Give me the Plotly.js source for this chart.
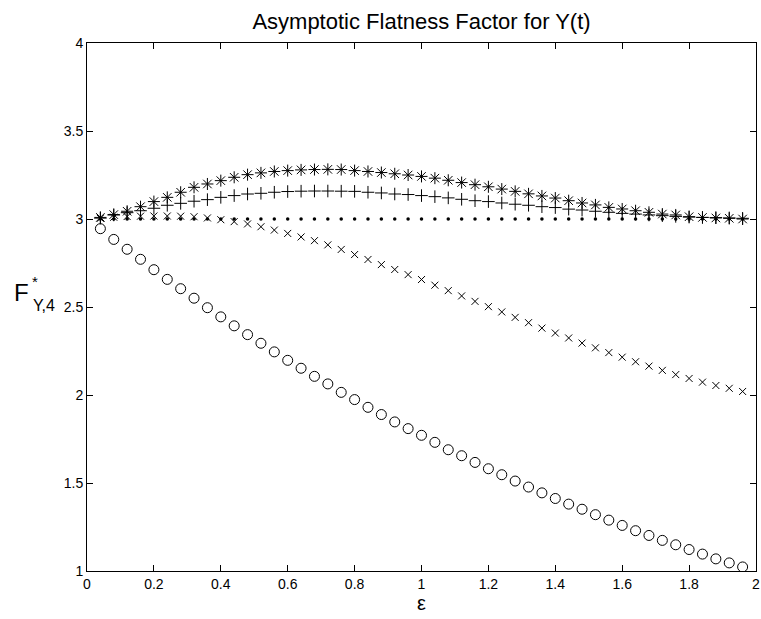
<!DOCTYPE html>
<html>
<head>
<meta charset="utf-8">
<script src="https://cdn.plot.ly/plotly-3.0.1.min.js"></script>
<style>html,body{margin:0;padding:0;background:#fff;}#chart{width:761px;height:619px;}</style>
</head>
<body>
<div id="chart"></div>
<script>
// epsilon values
const eps = [0.04,0.08,0.12,0.16,0.20,0.24,0.28,0.32,0.36,0.40,
  0.44,0.48,0.52,0.56,0.60,0.64,0.68,0.72,0.76,0.80,
  0.84,0.88,0.92,0.96,1.00,1.04,1.08,1.12,1.16,1.20,
  1.24,1.28,1.32,1.36,1.40,1.44,1.48,1.52,1.56,1.60,
  1.64,1.68,1.72,1.76,1.80,1.84,1.88,1.92,1.96];

// series
const circles = [2.945,2.884,2.828,2.771,2.712,2.657,2.604,2.550,2.496,2.444,
  2.393,2.343,2.294,2.245,2.197,2.152,2.106,2.063,2.015,1.974,
  1.930,1.889,1.847,1.809,1.771,1.731,1.689,1.655,1.617,1.581,
  1.547,1.511,1.477,1.444,1.412,1.380,1.351,1.320,1.289,1.259,
  1.229,1.202,1.174,1.149,1.122,1.096,1.069,1.046,1.023];

const crosses = [3.004,3.010,3.014,3.016,3.017,3.017,3.016,3.013,3.006,2.996,
  2.985,2.972,2.956,2.937,2.918,2.898,2.877,2.853,2.827,2.798,
  2.770,2.741,2.713,2.684,2.656,2.624,2.593,2.563,2.532,2.502,
  2.472,2.441,2.411,2.380,2.352,2.324,2.295,2.268,2.241,2.215,
  2.189,2.164,2.140,2.116,2.094,2.073,2.054,2.038,2.020];

const pluses = [3.005,3.023,3.036,3.047,3.061,3.078,3.089,3.101,3.110,3.123,
  3.133,3.142,3.146,3.152,3.156,3.158,3.159,3.159,3.158,3.157,
  3.152,3.148,3.142,3.139,3.133,3.127,3.120,3.112,3.104,3.099,
  3.091,3.084,3.078,3.070,3.065,3.056,3.051,3.044,3.038,3.032,
  3.028,3.023,3.019,3.015,3.011,3.009,3.008,3.006,3.004];

const stars = [3.009,3.025,3.044,3.070,3.099,3.123,3.152,3.180,3.199,3.218,
  3.237,3.252,3.262,3.270,3.275,3.279,3.281,3.282,3.281,3.275,
  3.270,3.264,3.257,3.250,3.242,3.232,3.220,3.207,3.195,3.183,
  3.170,3.157,3.143,3.131,3.119,3.104,3.091,3.080,3.066,3.057,
  3.047,3.038,3.028,3.023,3.013,3.009,3.006,3.004,3.000];

const dots = [3,3,3,3,3,3,3,3,3,3,
  3,3,3,3,3,3,3,3,3,3,
  3,3,3,3,3,3,3,3,3,3,
  3,3,3,3,3,3,3,3,3,3,
  3,3,3,3,3,3,3,3,3];

const xTicks = [0,0.2,0.4,0.6,0.8,1,1.2,1.4,1.6,1.8,2];
const xTickText = ['0','0.2','0.4','0.6','0.8','1','1.2','1.4','1.6','1.8','2'];
const yTicks = [1,1.5,2,2.5,3,3.5,4];
const yTickText = ['1','1.5','2','2.5','3','3.5','4'];

const FONT = 'Liberation Sans, Arial, Helvetica, sans-serif';
const mk = (sym, size, extra) => Object.assign({symbol: sym, size: size, color: '#000', line: {color: '#000', width: 1}}, extra || {});

const traces = [
  {x: eps, y: dots, mode: 'markers', type: 'scatter', marker: mk('circle', 3.5, {line:{width:0}})},
  {x: eps, y: circles, mode: 'markers', type: 'scatter', marker: mk('circle-open', 10)},
  {x: eps, y: crosses, mode: 'markers', type: 'scatter', marker: mk('x-thin-open', 7)},
  {x: eps, y: pluses, mode: 'markers', type: 'scatter', marker: mk('cross-thin-open', 9)},
  {x: eps, y: stars, mode: 'markers', type: 'scatter', marker: mk('asterisk-open', 10)}
];

const L = 87, R = 5, T = 43, B = 48, W = 761, H = 619;
const pw = W - L - R, ph = H - T - B;
const px = v => (v - L) / pw;
const py = v => (H - B - v) / ph;

const layout = {
  width: W, height: H,
  margin: {l: L, r: R, t: T, b: B, pad: 0},
  paper_bgcolor: '#fff', plot_bgcolor: '#fff',
  showlegend: false,
  font: {family: FONT, color: '#000', size: 14},
  title: {text: 'Asymptotic Flatness Factor for Y(t)', font: {family: FONT, size: 22, color: '#000'},
    x: (L + pw/2) / W, xanchor: 'center', y: 1 - 21/H, yanchor: 'middle', xref: 'container', yref: 'container'},
  xaxis: {
    range: [0, 2], tickmode: 'array', tickvals: xTicks, ticktext: xTickText,
    ticks: 'inside', ticklen: 6, tickcolor: '#000', tickwidth: 1,
    showline: true, linecolor: '#000', linewidth: 1, mirror: 'ticks',
    showgrid: false, zeroline: false, tickfont: {family: FONT, size: 14, color: '#000'},
    title: {text: 'ε', font: {family: FONT, size: 20, color: '#000'}, standoff: 4}
  },
  yaxis: {
    range: [1, 4], tickmode: 'array', tickvals: yTicks, ticktext: yTickText,
    ticks: 'inside', ticklen: 6, tickcolor: '#000', tickwidth: 1,
    showline: true, linecolor: '#000', linewidth: 1, mirror: 'ticks',
    showgrid: false, zeroline: false, tickfont: {family: FONT, size: 14, color: '#000'}
  },
  annotations: [
    {text: 'F', xref: 'paper', yref: 'paper', x: px(31), y: py(292), xanchor: 'right', yanchor: 'middle',
     showarrow: false, font: {family: FONT, size: 24, color: '#000'}},
    {text: '*', xref: 'paper', yref: 'paper', x: px(30), y: py(281), xanchor: 'left', yanchor: 'middle',
     showarrow: false, font: {family: FONT, size: 15, color: '#000'}},
    {text: 'Y,4', xref: 'paper', yref: 'paper', x: px(31), y: py(305), xanchor: 'left', yanchor: 'middle',
     showarrow: false, font: {family: FONT, size: 16, color: '#000'}}
  ]
};

Plotly.newPlot('chart', traces, layout, {displayModeBar: false, staticPlot: true});
</script>
</body>
</html>
